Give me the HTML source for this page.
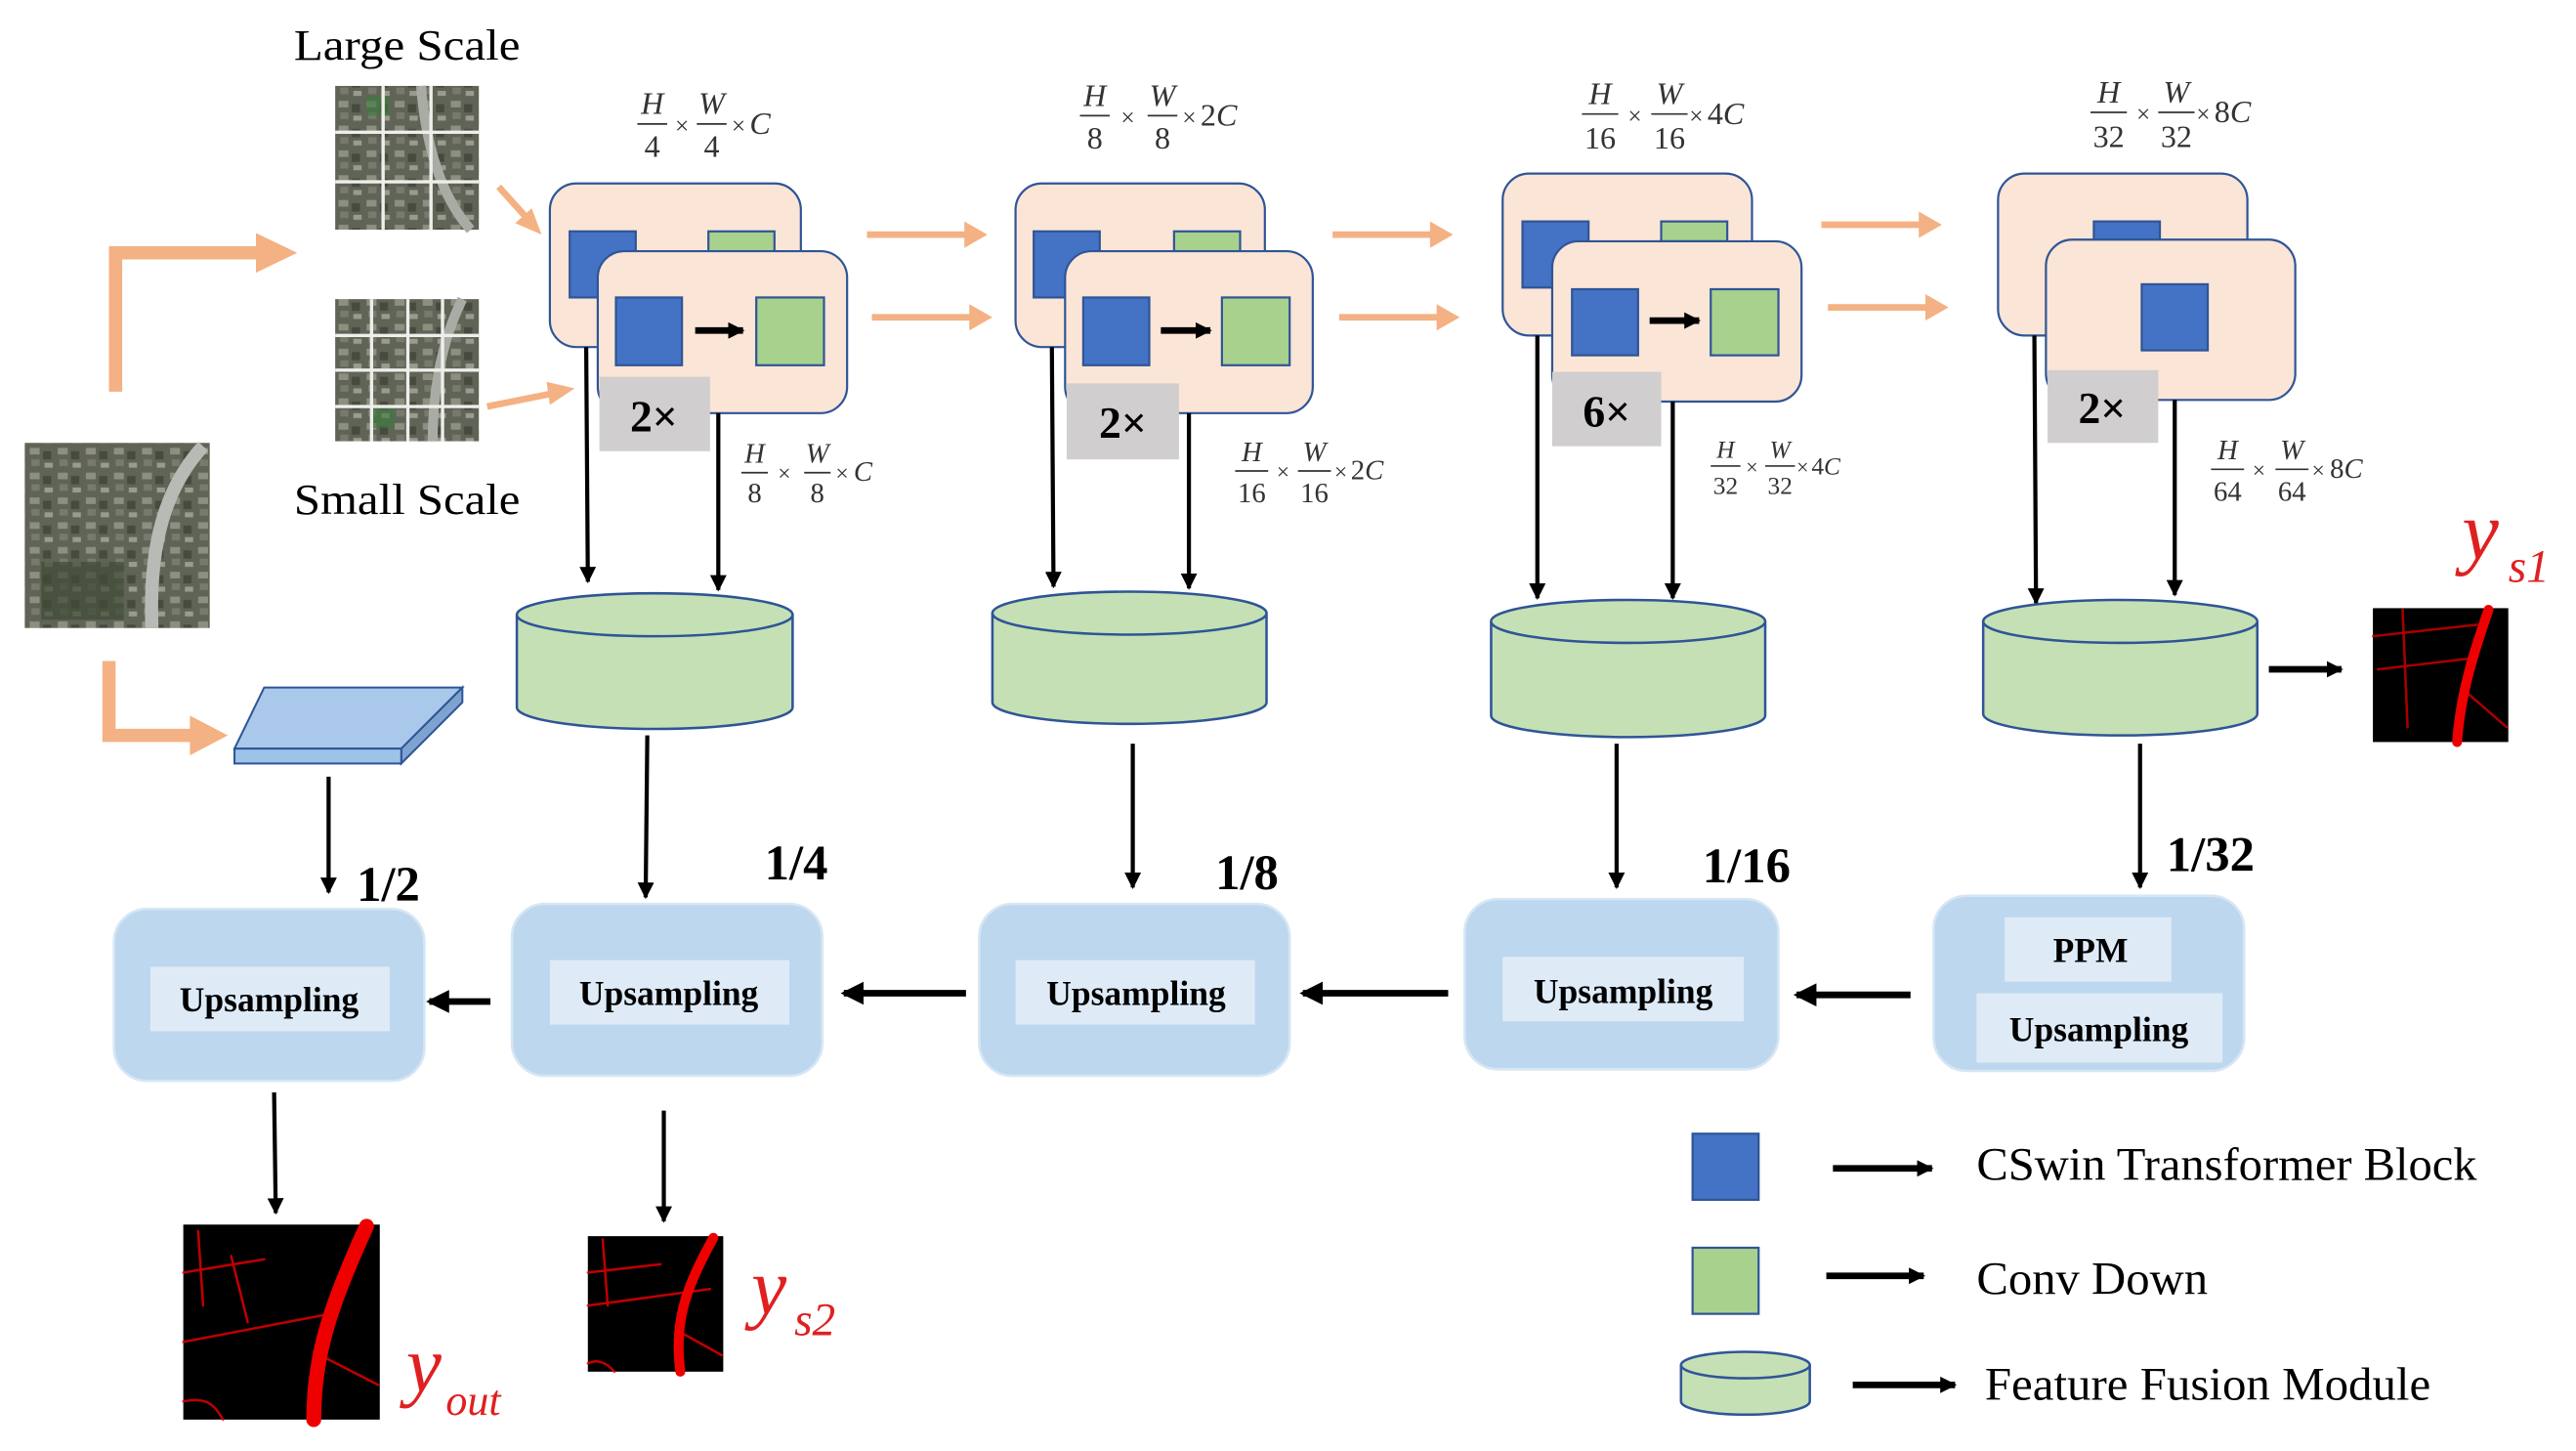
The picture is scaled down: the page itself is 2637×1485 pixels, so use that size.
<!DOCTYPE html>
<html><head><meta charset="utf-8"><style>
html,body{margin:0;padding:0;background:#fff;}
svg{display:block;}
text{font-family:"Liberation Serif",serif;}
.fi{font-style:italic;fill:#333;}
.fn{fill:#333;}
</style></head><body>
<svg width="2637" height="1485" viewBox="0 0 1560 878" preserveAspectRatio="none" xmlns="http://www.w3.org/2000/svg">
<defs>
<marker id="ah" markerWidth="10" markerHeight="10" refX="9" refY="5" orient="auto" markerUnits="userSpaceOnUse"><path d="M0,0 L10,5 L0,10 Z" fill="#000"/></marker>
<marker id="ah2" markerWidth="14" markerHeight="14" refX="12" refY="7" orient="auto" markerUnits="userSpaceOnUse"><path d="M0,0 L14,7 L0,14 Z" fill="#000"/></marker>
<pattern id="sat" width="17" height="15" patternUnits="userSpaceOnUse">
<rect width="17" height="15" fill="#5f6456"/>
<rect x="1" y="1" width="6" height="4" fill="#8d8f80"/>
<rect x="9" y="3" width="5" height="5" fill="#464b3f"/>
<rect x="2" y="8" width="5" height="4" fill="#777a6c"/>
<rect x="10" y="10" width="5" height="3" fill="#9a9b8e"/>
</pattern>
</defs>

<!-- titles -->
<text x="178" y="36" font-size="26" textLength="137" lengthAdjust="spacingAndGlyphs">Large Scale</text>
<text x="178" y="311" font-size="26" textLength="137" lengthAdjust="spacingAndGlyphs">Small Scale</text>

<!-- satellite images -->
<g>
<rect x="203" y="52" width="87" height="87" fill="url(#sat)"/>
<path d="M255,52 C258,90 268,120 285,139" stroke="#a9aca4" stroke-width="6" fill="none"/>
<rect x="222" y="58" width="14" height="12" fill="#3d7a3d" opacity="0.6"/>
<g stroke="#eeeeea" stroke-width="2"><line x1="232" y1="52" x2="232" y2="139"/><line x1="261" y1="52" x2="261" y2="139"/><line x1="203" y1="80" x2="290" y2="80"/><line x1="203" y1="110" x2="290" y2="110"/></g>
</g>
<g>
<rect x="203" y="181" width="87" height="86" fill="url(#sat)"/>
<path d="M280,181 C268,205 262,235 262,267" stroke="#a9aca4" stroke-width="6" fill="none"/>
<rect x="225" y="245" width="14" height="14" fill="#3d7a3d" opacity="0.6"/>
<g stroke="#eeeeea" stroke-width="2"><line x1="225" y1="181" x2="225" y2="267"/><line x1="247" y1="181" x2="247" y2="267"/><line x1="268" y1="181" x2="268" y2="267"/><line x1="203" y1="203" x2="290" y2="203"/><line x1="203" y1="224" x2="290" y2="224"/><line x1="203" y1="246" x2="290" y2="246"/></g>
</g>
<g>
<rect x="15" y="268" width="112" height="112" fill="url(#sat)"/>
<rect x="25" y="340" width="50" height="35" fill="#3f4a35" opacity="0.7"/>
<path d="M123,270 C100,295 90,330 92,380" stroke="#b8bbb5" stroke-width="8" fill="none"/>
</g>

<!-- orange arrows -->
<g fill="#f4b183" stroke="none">
<path d="M66,237 V149 H155 V141 L180,153 L155,165 V157 H74 V237 Z"/>
<path d="M62,400 V449 H115 V457 L138,445 L115,433 V441 H70 V400 Z"/>
</g>
<g stroke="#f4b183" stroke-width="4" fill="#f4b183">
<line x1="302" y1="113" x2="320" y2="133"/><polygon points="328,142 312,135 322,126" stroke="none"/>
<line x1="295" y1="246" x2="335" y2="238"/><polygon points="348,235 333,245 331,231" stroke="none"/>
<line x1="525" y1="142" x2="585" y2="142"/><polygon points="598,142 584,134 584,150" stroke="none"/>
<line x1="528" y1="192" x2="588" y2="192"/><polygon points="601,192 587,184 587,200" stroke="none"/>
<line x1="807" y1="142" x2="867" y2="142"/><polygon points="880,142 866,134 866,150" stroke="none"/>
<line x1="811" y1="192" x2="871" y2="192"/><polygon points="884,192 870,184 870,200" stroke="none"/>
<line x1="1103" y1="136" x2="1163" y2="136"/><polygon points="1176,136 1162,128 1162,144" stroke="none"/>
<line x1="1107" y1="186" x2="1167" y2="186"/><polygon points="1180,186 1166,178 1166,194" stroke="none"/>
</g>

<!-- blue slab -->
<g stroke="#2f5597" stroke-width="1.2">
<polygon points="160,416 280,416 243,453 142,453" fill="#a9c8ea"/>
<polygon points="243,453 280,416 280,425 243,462" fill="#7fa3cf"/>
<rect x="142" y="453" width="101" height="9" fill="#9dc3e6"/>
</g>

<!-- stage boxes -->
<g stroke="#2f5597" stroke-width="1.3">
<rect x="333" y="111" width="152" height="99" rx="16" fill="#fbe5d6"/>
<rect x="345" y="140" width="40" height="40" fill="#4472c4"/>
<rect x="429" y="140" width="40" height="12" fill="#a9d18e"/>
<rect x="362" y="152" width="151" height="98" rx="16" fill="#fbe5d6"/>
<rect x="373" y="180" width="40" height="41" fill="#4472c4"/>
<rect x="458" y="180" width="41" height="41" fill="#a9d18e"/>
<rect x="615" y="111" width="151" height="99" rx="16" fill="#fbe5d6"/>
<rect x="626" y="140" width="40" height="40" fill="#4472c4"/>
<rect x="711" y="140" width="40" height="12" fill="#a9d18e"/>
<rect x="645" y="152" width="150" height="98" rx="16" fill="#fbe5d6"/>
<rect x="656" y="180" width="40" height="41" fill="#4472c4"/>
<rect x="740" y="180" width="41" height="41" fill="#a9d18e"/>
<rect x="910" y="105" width="151" height="98" rx="16" fill="#fbe5d6"/>
<rect x="922" y="134" width="40" height="40" fill="#4472c4"/>
<rect x="1006" y="134" width="40" height="12" fill="#a9d18e"/>
<rect x="940" y="146" width="151" height="97" rx="16" fill="#fbe5d6"/>
<rect x="952" y="175" width="40" height="40" fill="#4472c4"/>
<rect x="1036" y="175" width="41" height="40" fill="#a9d18e"/>
<rect x="1210" y="105" width="151" height="98" rx="16" fill="#fbe5d6"/>
<rect x="1268" y="134" width="40" height="12" fill="#4472c4"/>
<rect x="1239" y="145" width="151" height="97" rx="16" fill="#fbe5d6"/>
<rect x="1297" y="172" width="40" height="40" fill="#4472c4"/>
</g>
<g stroke="#000" stroke-width="4" marker-end="url(#ah)">
<line x1="421" y1="200" x2="450" y2="200"/>
<line x1="703" y1="200" x2="733" y2="200"/>
<line x1="999" y1="194" x2="1029" y2="194"/>
</g>
<g fill="#d0cece">
<rect x="363" y="228" width="67" height="45"/>
<rect x="646" y="232" width="68" height="46"/>
<rect x="940" y="225" width="66" height="45"/>
<rect x="1240" y="224" width="67" height="44"/>
</g>
<g font-size="27" font-weight="bold" text-anchor="middle">
<text x="396" y="261">2×</text>
<text x="680" y="265">2×</text>
<text x="973" y="258">6×</text>
<text x="1273" y="256">2×</text>
</g>

<!-- formulas -->
<g font-size="19">
<g transform="translate(395,75)">
<text class="fi" x="0" y="-6" text-anchor="middle">H</text><line x1="-9" y1="0" x2="9" y2="0" stroke="#333"/><text class="fn" x="0" y="20" text-anchor="middle">4</text>
<text class="fn" x="18" y="6" text-anchor="middle" font-size="15">×</text>
<text class="fi" x="36" y="-6" text-anchor="middle">W</text><line x1="27" y1="0" x2="45" y2="0" stroke="#333"/><text class="fn" x="36" y="20" text-anchor="middle">4</text>
<text class="fn" x="48" y="6" font-size="15">×</text><text class="fi" x="59" y="6">C</text>
</g>
<g transform="translate(663,70)">
<text class="fi" x="0" y="-6" text-anchor="middle">H</text><line x1="-9" y1="0" x2="9" y2="0" stroke="#333"/><text class="fn" x="0" y="20" text-anchor="middle">8</text>
<text class="fn" x="20" y="6" text-anchor="middle" font-size="15">×</text>
<text class="fi" x="41" y="-6" text-anchor="middle">W</text><line x1="32" y1="0" x2="50" y2="0" stroke="#333"/><text class="fn" x="41" y="20" text-anchor="middle">8</text>
<text class="fn" x="53" y="6" font-size="15">×</text><text class="fn" x="64" y="6">2<tspan class="fi">C</tspan></text>
</g>
<g transform="translate(969,69)">
<text class="fi" x="0" y="-6" text-anchor="middle">H</text><line x1="-11" y1="0" x2="11" y2="0" stroke="#333"/><text class="fn" x="0" y="21" text-anchor="middle">16</text>
<text class="fn" x="21" y="6" text-anchor="middle" font-size="15">×</text>
<text class="fi" x="42" y="-6" text-anchor="middle">W</text><line x1="31" y1="0" x2="53" y2="0" stroke="#333"/><text class="fn" x="42" y="21" text-anchor="middle">16</text>
<text class="fn" x="54" y="6" font-size="15">×</text><text class="fn" x="65" y="6">4<tspan class="fi">C</tspan></text>
</g>
<g transform="translate(1277,68)">
<text class="fi" x="0" y="-6" text-anchor="middle">H</text><line x1="-11" y1="0" x2="11" y2="0" stroke="#333"/><text class="fn" x="0" y="21" text-anchor="middle">32</text>
<text class="fn" x="21" y="6" text-anchor="middle" font-size="15">×</text>
<text class="fi" x="41" y="-6" text-anchor="middle">W</text><line x1="30" y1="0" x2="52" y2="0" stroke="#333"/><text class="fn" x="41" y="21" text-anchor="middle">32</text>
<text class="fn" x="53" y="6" font-size="15">×</text><text class="fn" x="64" y="6">8<tspan class="fi">C</tspan></text>
</g>
</g>
<g font-size="17">
<g transform="translate(457,286)">
<text class="fi" x="0" y="-6" text-anchor="middle">H</text><line x1="-8" y1="0" x2="8" y2="0" stroke="#333"/><text class="fn" x="0" y="18" text-anchor="middle">8</text>
<text class="fn" x="18" y="5" text-anchor="middle" font-size="14">×</text>
<text class="fi" x="38" y="-6" text-anchor="middle">W</text><line x1="30" y1="0" x2="46" y2="0" stroke="#333"/><text class="fn" x="38" y="18" text-anchor="middle">8</text>
<text class="fn" x="49" y="5" font-size="14">×</text><text class="fi" x="60" y="5">C</text>
</g>
<g transform="translate(758,285)">
<text class="fi" x="0" y="-6" text-anchor="middle">H</text><line x1="-10" y1="0" x2="10" y2="0" stroke="#333"/><text class="fn" x="0" y="19" text-anchor="middle">16</text>
<text class="fn" x="19" y="5" text-anchor="middle" font-size="14">×</text>
<text class="fi" x="38" y="-6" text-anchor="middle">W</text><line x1="28" y1="0" x2="48" y2="0" stroke="#333"/><text class="fn" x="38" y="19" text-anchor="middle">16</text>
<text class="fn" x="50" y="5" font-size="14">×</text><text class="fn" x="60" y="5">2<tspan class="fi">C</tspan></text>
</g>
<g transform="translate(1045,282)" font-size="15">
<text class="fi" x="0" y="-5" text-anchor="middle">H</text><line x1="-9" y1="0" x2="9" y2="0" stroke="#333"/><text class="fn" x="0" y="17" text-anchor="middle">32</text>
<text class="fn" x="16" y="5" text-anchor="middle" font-size="13">×</text>
<text class="fi" x="33" y="-5" text-anchor="middle">W</text><line x1="24" y1="0" x2="42" y2="0" stroke="#333"/><text class="fn" x="33" y="17" text-anchor="middle">32</text>
<text class="fn" x="43" y="5" font-size="13">×</text><text class="fn" x="52" y="5">4<tspan class="fi">C</tspan></text>
</g>
<g transform="translate(1349,284)">
<text class="fi" x="0" y="-6" text-anchor="middle">H</text><line x1="-10" y1="0" x2="10" y2="0" stroke="#333"/><text class="fn" x="0" y="19" text-anchor="middle">64</text>
<text class="fn" x="19" y="5" text-anchor="middle" font-size="14">×</text>
<text class="fi" x="39" y="-6" text-anchor="middle">W</text><line x1="29" y1="0" x2="49" y2="0" stroke="#333"/><text class="fn" x="39" y="19" text-anchor="middle">64</text>
<text class="fn" x="51" y="5" font-size="14">×</text><text class="fn" x="62" y="5">8<tspan class="fi">C</tspan></text>
</g>
</g>

<g stroke="#000" stroke-width="2.5" marker-end="url(#ah)">
<line x1="355" y1="210" x2="356" y2="352"/>
<line x1="435" y1="250" x2="435" y2="357"/>
<line x1="637" y1="210" x2="638" y2="355"/>
<line x1="720" y1="250" x2="720" y2="356"/>
<line x1="931" y1="203" x2="931" y2="362"/>
<line x1="1013" y1="243" x2="1013" y2="362"/>
<line x1="1232" y1="203" x2="1233" y2="365"/>
<line x1="1317" y1="242" x2="1317" y2="360"/>
</g>

<g stroke="#2f5597" stroke-width="1.5" fill="#c5e0b4">
<path d="M313,372 V428 A83,13 0 0 0 480,428 V372"/><ellipse cx="396.5" cy="372" rx="83.5" ry="13"/>
<path d="M601,371 V425 A83,13 0 0 0 767,425 V371"/><ellipse cx="684" cy="371" rx="83" ry="13"/>
<path d="M903,376 V433 A83,13 0 0 0 1069,433 V376"/><ellipse cx="986" cy="376" rx="83" ry="13"/>
<path d="M1201,376 V432 A83,13 0 0 0 1367,432 V376"/><ellipse cx="1284" cy="376" rx="83" ry="13"/>
<path d="M1018,826 V848 A39,8 0 0 0 1096,848 V826"/><ellipse cx="1057" cy="826" rx="39" ry="8"/>
</g>

<g stroke="#000" stroke-width="4" marker-end="url(#ah)"><line x1="1374" y1="405" x2="1418" y2="405"/></g>
<rect x="1437" y="368" width="82" height="81" fill="#000"/>
<g fill="none" stroke="#e00" stroke-linecap="round">
<path d="M1507,369 C1498,395 1490,420 1488,449" stroke-width="6"/>
<path d="M1437,385 L1500,378 M1455,369 L1458,440 M1440,405 L1500,398 M1495,420 L1518,440" stroke-width="1.5" opacity="0.7"/>
</g>
<text x="1491" y="338" font-size="50" font-style="italic" fill="#e02020">y</text>
<text x="1519" y="352" font-size="28" font-style="italic" fill="#e02020">s1</text>

<g stroke="#000" stroke-width="2.5" marker-end="url(#ah)">
<line x1="199" y1="470" x2="199" y2="540"/>
<line x1="392" y1="445" x2="391" y2="543"/>
<line x1="686" y1="450" x2="686" y2="537"/>
<line x1="979" y1="450" x2="979" y2="537"/>
<line x1="1296" y1="450" x2="1296" y2="537"/>
<line x1="166" y1="661" x2="167" y2="734"/>
<line x1="402" y1="672" x2="402" y2="739"/>
</g>
<g font-size="30" font-weight="bold">
<text x="216" y="545">1/2</text>
<text x="463" y="532">1/4</text>
<text x="736" y="538">1/8</text>
<text x="1031" y="534">1/16</text>
<text x="1312" y="527">1/32</text>
</g>

<g fill="#bdd7ee" stroke="#d6e6f4" stroke-width="1.5">
<rect x="69" y="550" width="188" height="104" rx="20"/>
<rect x="310" y="547" width="188" height="104" rx="20"/>
<rect x="593" y="547" width="188" height="104" rx="20"/>
<rect x="887" y="544" width="190" height="103" rx="20"/>
<rect x="1171" y="542" width="188" height="106" rx="20"/>
</g>
<g fill="#deebf7">
<rect x="91" y="585" width="145" height="39"/>
<rect x="333" y="581" width="145" height="39"/>
<rect x="615" y="581" width="145" height="39"/>
<rect x="910" y="579" width="146" height="39"/>
<rect x="1214" y="555" width="101" height="39"/>
<rect x="1197" y="601" width="149" height="42"/>
</g>
<g font-size="21" font-weight="bold" text-anchor="middle">
<text x="163" y="612">Upsampling</text>
<text x="405" y="608">Upsampling</text>
<text x="688" y="608">Upsampling</text>
<text x="983" y="607">Upsampling</text>
<text x="1266" y="582">PPM</text>
<text x="1271" y="630">Upsampling</text>
</g>
<g stroke="#000" stroke-width="4" marker-end="url(#ah2)">
<line x1="297" y1="606" x2="260" y2="606"/>
<line x1="585" y1="601" x2="511" y2="601"/>
<line x1="877" y1="601" x2="789" y2="601"/>
<line x1="1157" y1="602" x2="1088" y2="602"/>
</g>

<rect x="111" y="741" width="119" height="118" fill="#000"/>
<g fill="none" stroke="#e00" stroke-linecap="round">
<path d="M222,742 C200,790 190,820 190,859" stroke-width="9"/>
<path d="M111,770 L160,762 M120,745 L123,790 M111,812 L200,795 M190,818 L229,838 M111,848 C125,845 130,850 135,859 M140,760 L150,800" stroke-width="1.5" opacity="0.8"/>
</g>
<text x="246" y="842" font-size="48" font-style="italic" fill="#e02020">y</text>
<text x="270" y="856" font-size="26" font-style="italic" fill="#e02020">out</text>
<rect x="356" y="748" width="82" height="82" fill="#000"/>
<g fill="none" stroke="#e00" stroke-linecap="round">
<path d="M432,749 C415,780 408,800 412,830" stroke-width="6"/>
<path d="M356,790 L430,780 M365,750 L368,790 M356,770 L400,765 M410,805 L437,820 M356,825 C362,822 368,825 372,830" stroke-width="1.5" opacity="0.8"/>
</g>
<text x="455" y="795" font-size="48" font-style="italic" fill="#e02020">y</text>
<text x="481" y="808" font-size="28" font-style="italic" fill="#e02020">s2</text>

<rect x="1025" y="686" width="40" height="40" fill="#4472c4" stroke="#2f5597" stroke-width="1.3"/>
<rect x="1025" y="755" width="40" height="40" fill="#a9d18e" stroke="#2f5597" stroke-width="1.3"/>
<g stroke="#000" stroke-width="4" marker-end="url(#ah)">
<line x1="1110" y1="707" x2="1170" y2="707"/>
<line x1="1106" y1="772" x2="1165" y2="772"/>
<line x1="1122" y1="838" x2="1184" y2="838"/>
</g>
<g font-size="28">
<text x="1197" y="714" textLength="303" lengthAdjust="spacingAndGlyphs">CSwin Transformer Block</text>
<text x="1197" y="783" textLength="140" lengthAdjust="spacingAndGlyphs">Conv Down</text>
<text x="1202" y="847" textLength="270" lengthAdjust="spacingAndGlyphs">Feature Fusion Module</text>
</g>
</svg>
</body></html>
